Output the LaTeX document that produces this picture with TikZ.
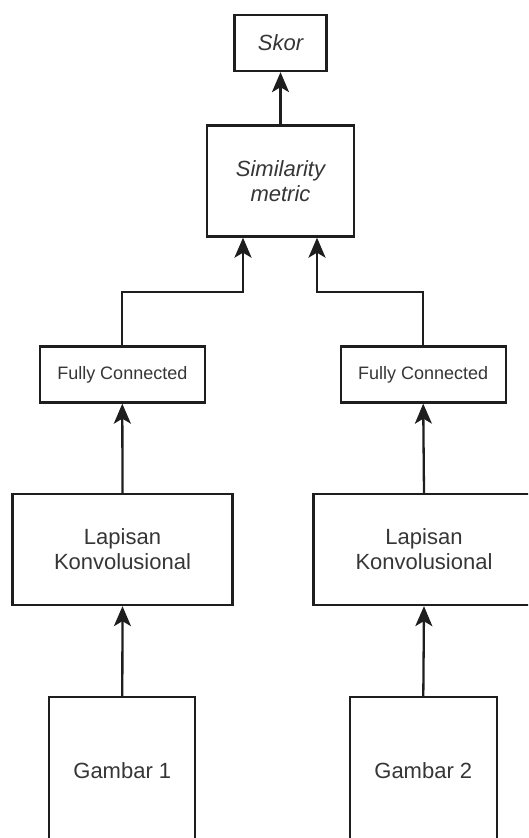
\documentclass[tikz,border=0pt]{standalone}
\usepackage{fontspec}
\setmainfont{Liberation Sans}
\usetikzlibrary{arrows.meta}
\definecolor{edge}{HTML}{1E1E1E}
\definecolor{ink}{HTML}{363636}
\tikzset{
  box/.style={draw=edge, line width=2.3pt, fill=white, inner sep=0pt,
    align=center, text=ink, font=\fontsize{22}{25}\selectfont},
  smallbox/.style={box, font=\fontsize{18}{22}\selectfont},
  headtip/.tip={Stealth[length=20pt,width=17pt,inset=5pt]},
  arr/.style={draw=edge, line width=2.3pt, -headtip}
}
\begin{document}
\begin{tikzpicture}[x=1pt,y=-1pt]
\useasboundingbox (0,0) rectangle (528,838);
\clip (0,0) rectangle (528,838);

% output and comparison
\node[box, minimum width=92pt, minimum height=56pt] (skor) at (280.5,43) {\itshape Skor};
\node[box, minimum width=147pt, minimum height=111pt] (sim) at (280.5,181) {\itshape Similarity\\\itshape metric};

% left branch
\node[smallbox, minimum width=165pt, minimum height=56pt] (fc1) at (122.3,374.5) {Fully Connected};
\node[box, minimum width=220pt, minimum height=111pt] (lap1) at (122.5,549.5) {Lapisan\\Konvolusional};
\node[box, minimum width=146pt, minimum height=148pt] (g1) at (122.3,771) {Gambar 1};

% right branch
\node[smallbox, minimum width=165pt, minimum height=56pt] (fc2) at (423.2,374.5) {Fully Connected};
\node[box, minimum width=221pt, minimum height=111pt] (lap2) at (424,549.5) {Lapisan\\Konvolusional};
\node[box, minimum width=146.7pt, minimum height=148pt] (g2) at (423.3,771) {Gambar 2};

% connectors
\draw[arr] (g1.north) -- (lap1.south);
\draw[arr] (lap1.north) -- (fc1.north |- fc1.south);
\draw[arr] (g2.north) -- (lap2.south);
\draw[arr] (lap2.north) -- (fc2.north |- fc2.south);
\coordinate (inL) at ([xshift=-37.5pt]sim.south);
\coordinate (inR) at ([xshift=36.5pt]sim.south);
\draw[arr] (fc1.north) |- ([yshift=-54pt]inL) -- (inL);
\draw[arr] (fc2.north) |- ([yshift=-54pt]inR) -- (inR);
\draw[arr] (sim.north) -- (skor.south);
\end{tikzpicture}
\end{document}
